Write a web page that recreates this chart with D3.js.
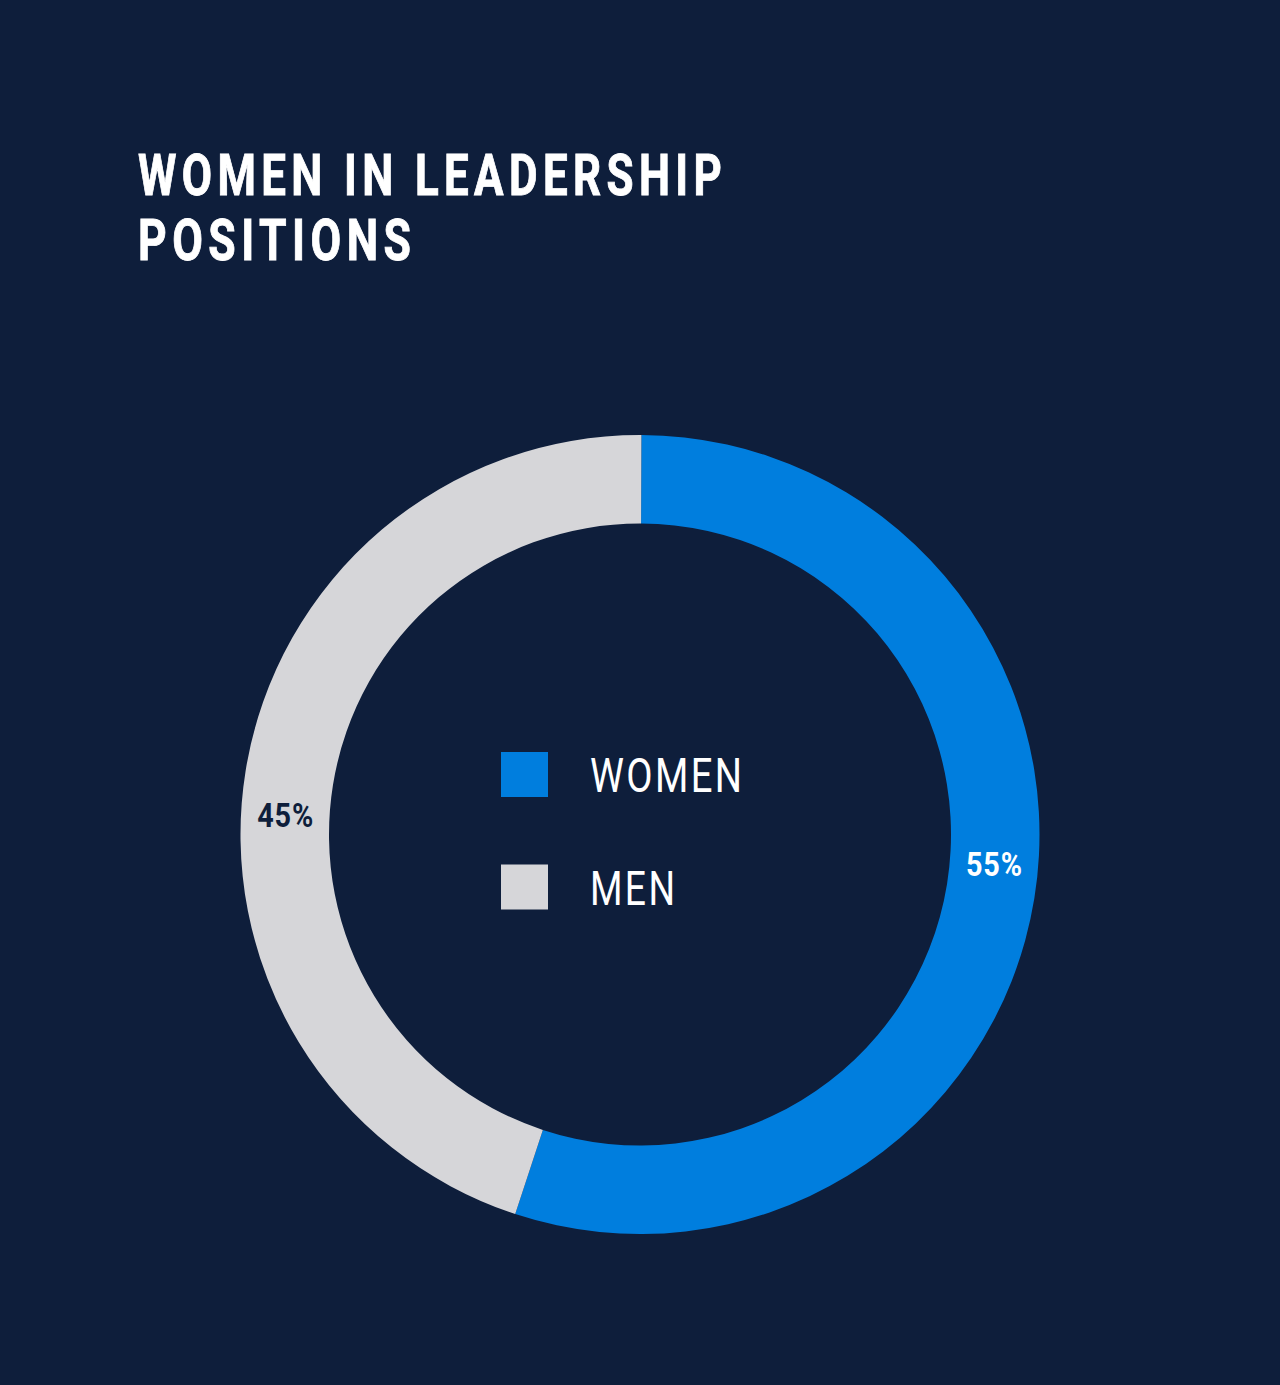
<!DOCTYPE html>
<html>
<head>
<meta charset="utf-8">
<script src="https://cdn.jsdelivr.net/npm/d3@7"></script>
<style>
  html, body { margin: 0; padding: 0; background: #0e1e3b; }
  svg { display: block; }
</style>
</head>
<body>
<svg id="chart" width="1280" height="1385"></svg>
<script>
// ---- data ----
const categories = ["WOMEN", "MEN"];
const values = [55, 45];
const valueLabels = ["55%", "45%"];
const titleLines = ["WOMEN IN LEADERSHIP", "POSITIONS"];

// ---- style ----
const colors = { WOMEN: "#007ede", MEN: "#d6d6d9" };
const labelColors = { WOMEN: "#ffffff", MEN: "#0e1e3b" };
const bg = "#0e1e3b";

const W = 1280, H = 1385;
const cx = 640, cy = 834.5;
const outerR = 399.5, innerR = 311;
const startOffset = 0.2 * Math.PI / 180;
const labelShift = -5.2 * Math.PI / 180;
const labelDy = 5;

const svg = d3.select("#chart");
svg.append("rect").attr("width", W).attr("height", H).attr("fill", bg);

// helper: fit text (with letter spacing) to a target width by horizontal scaling
function fitText(sel, targetWidth, x, y) {
  sel.each(function (d, i) {
    const t = d3.select(this);
    const len = this.getComputedTextLength();
    const tw = typeof targetWidth === "function" ? targetWidth(d, i) : targetWidth;
    const ls = parseFloat(t.attr("letter-spacing")) || 0;
    const sx = tw / Math.max(1, len - ls);
    const xx = typeof x === "function" ? x(d, i) : x;
    const yy = typeof y === "function" ? y(d, i) : y;
    t.attr("transform", `translate(${xx},${yy}) scale(${sx},1)`);
  });
}

// title
const titleWidths = [584, 273];
svg.append("g").selectAll("text").data(titleLines).join("text")
  .attr("fill", "#ffffff")
  .attr("stroke", "#ffffff")
  .attr("stroke-width", 0.9)
  .attr("font-family", "Roboto, 'Noto Sans', sans-serif")
  .attr("font-weight", 700)
  .attr("font-size", 57)
  .attr("letter-spacing", 7)
  .text(d => d)
  .call(fitText, (d, i) => titleWidths[i], 138, (d, i) => 195 + i * 65);

// donut
const pie = d3.pie().sort(null).value(d => d.value)
  .startAngle(startOffset).endAngle(2 * Math.PI + startOffset);
const data = categories.map((c, i) => ({ cat: c, value: values[i], label: valueLabels[i] }));
const arcs = pie(data);
const arc = d3.arc().innerRadius(innerR).outerRadius(outerR);

const g = svg.append("g").attr("transform", `translate(${cx},${cy})`);
g.selectAll("path").data(arcs).join("path")
  .attr("d", arc)
  .attr("fill", d => colors[d.data.cat]);

const midR = (innerR + outerR) / 2;
g.selectAll("text.val").data(arcs).join("text")
  .attr("class", "val")
  .attr("text-anchor", "middle")
  .attr("dy", "0.36em")
  .attr("fill", d => labelColors[d.data.cat])
  .attr("font-family", "Roboto, sans-serif")
  .attr("font-weight", 700)
  .attr("font-size", 33)
  .attr("letter-spacing", 1)
  .text(d => d.data.label)
  .each(function (d) {
    const a = (d.startAngle + d.endAngle) / 2 + labelShift;
    const len = this.getComputedTextLength();
    const sx = 57 / Math.max(1, len);
    d3.select(this).attr("transform",
      `translate(${midR * Math.sin(a)},${-midR * Math.cos(a) + labelDy}) scale(${sx},1)`);
  });

// legend
const legendY = d3.scaleBand().domain(categories).range([752, 977]).paddingInner(0);
const legend = svg.append("g").selectAll("g").data(categories).join("g")
  .attr("transform", d => `translate(501,${legendY(d)})`);
legend.append("rect")
  .attr("width", 47).attr("height", 45)
  .attr("fill", d => colors[d]);
const legendWidths = { WOMEN: 152, MEN: 85 };
legend.append("text")
  .attr("fill", "#ffffff")
  .attr("font-family", "Roboto, sans-serif")
  .attr("font-weight", 400)
  .attr("font-size", 48)
  .attr("letter-spacing", 3)
  .text(d => d)
  .call(fitText, d => legendWidths[d], 89, 40);
</script>
</body>
</html>
